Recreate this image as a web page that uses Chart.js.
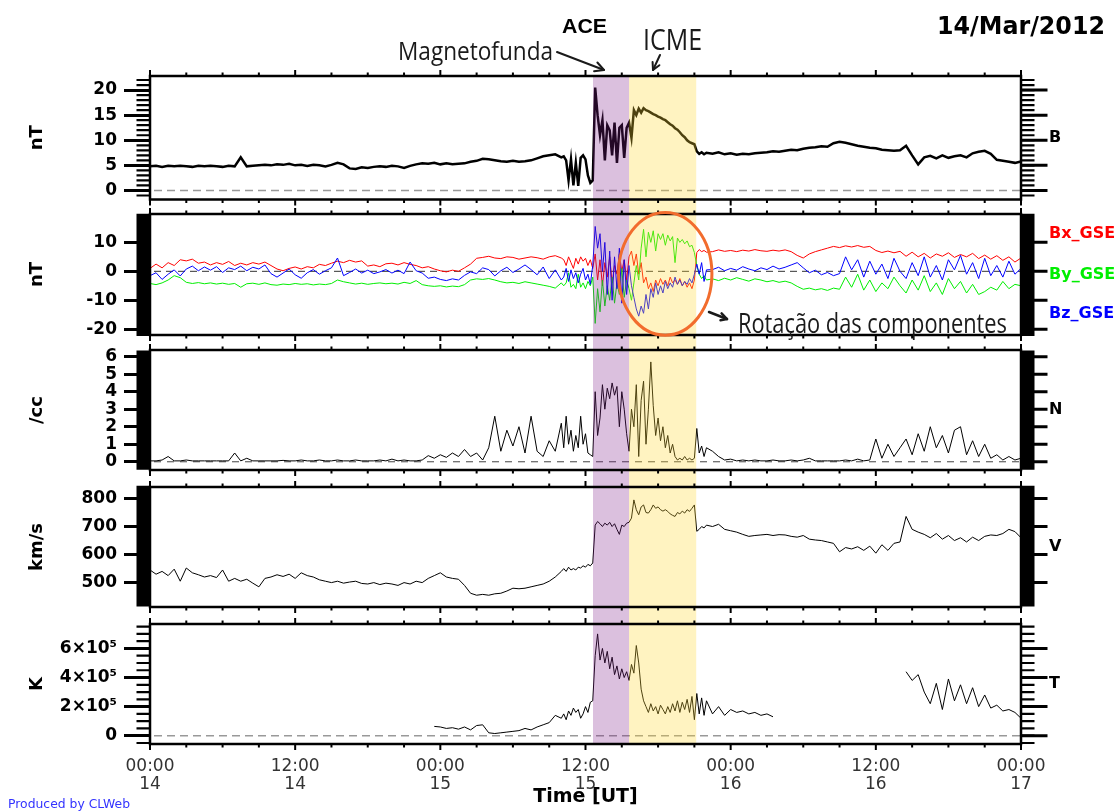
<!DOCTYPE html>
<html><head><meta charset="utf-8">
<script src="https://cdn.jsdelivr.net/npm/chart.js@4.4.1/dist/chart.umd.min.js"></script>
<style>
html,body{margin:0;padding:0;background:#fff;}
#wrap{position:relative;width:1115px;height:811px;overflow:hidden;background:#fff;}
#wrap canvas{position:absolute;left:0;}
.ann{position:absolute;white-space:nowrap;line-height:1;transform-origin:0 0;}
#arrows{position:absolute;left:0;top:0;pointer-events:none;}
</style></head><body>
<div id="wrap">
<canvas id="c1" width="1115" height="207" style="top:0px"></canvas>
<canvas id="c2" width="1115" height="135" style="top:207px"></canvas>
<canvas id="c3" width="1115" height="136" style="top:342px"></canvas>
<canvas id="c4" width="1115" height="137" style="top:478px"></canvas>
<canvas id="c5" width="1115" height="196" style="top:615px"></canvas>
<svg id="arrows" width="1115" height="811">
 <g stroke="#1a1a1a" stroke-width="2" fill="none" stroke-linecap="round" stroke-linejoin="round">
  <line x1="557" y1="52" x2="604" y2="70"/>
  <polyline points="597.4,62.5 604,70 594.1,71.2"/>
  <line x1="660" y1="55" x2="653" y2="70"/>
  <polyline points="659.4,65.2 653,70 652.6,62"/>
  <line x1="709" y1="312" x2="727" y2="319" stroke-width="2.5"/>
  <polyline points="721.6,313.4 727,319 720.5,320.2" stroke-width="2.5"/>
 </g>
</svg>
<div class="ann" id="aACE" style="left:562px;top:14px;font:bold 21px 'Liberation Sans';color:#000">ACE</div>
<div class="ann" id="aMag" style="left:398px;top:32px;font:400 26px 'Open Sans';color:#1a1a1a">Magnetofunda</div>
<div class="ann" id="aICME" style="left:643px;top:18px;font:400 30px 'Open Sans';color:#1a1a1a">ICME</div>
<div class="ann" id="aDate" style="left:937px;top:12px;font:bold 24px 'DejaVu Sans';color:#000">14/Mar/2012</div>
<div class="ann" id="aRot" style="left:738px;top:303px;font:400 28px 'Open Sans';color:#1a1a1a">Rotação das componentes</div>
<div class="ann" id="aCl" style="left:8px;top:796px;font:12.5px 'DejaVu Sans';color:#3333ff">Produced by CLWeb</div>
</div>
<script>
// ---------- time grid (hours since 14 Mar 00:00 UT) ----------
const hours = [
0,0.5,1,1.5,2,2.5,3,3.5,4,4.5,5,5.5,6,6.5,7,7.5,8,8.5,9,9.5,10,10.5,11,11.5,12,12.5,13,13.5,14,14.5,15,15.5,16,16.5,17,17.5,18,18.5,19,19.5,20,20.5,21,21.5,22,22.5,23,23.5,24,24.5,25,25.5,26,26.5,27,27.5,28,28.5,29,29.5,30,30.5,31,31.5,32,32.5,33,33.5,34,
34.2,34.4,34.6,34.8,35,35.2,35.4,35.6,35.8,36,36.2,36.4,36.6,36.8,37,37.2,37.4,37.6,37.8,38,38.2,38.4,38.6,38.8,39,39.2,39.4,39.6,39.8,40,40.2,40.4,40.6,40.8,41,41.2,41.4,41.6,41.8,42,42.2,42.4,42.6,42.8,43,43.2,43.4,43.6,43.8,44,44.2,44.4,44.6,44.8,45,45.2,45.4,45.6,45.8,46,
46.5,47,47.5,48,48.5,49,49.5,50,50.5,51,51.5,52,52.5,53,53.5,54,54.5,55,55.5,56,56.5,57,57.5,58,58.5,59,59.5,60,60.5,61,61.5,62,62.5,63,63.5,64,64.5,65,65.5,66,66.5,67,67.5,68,68.5,69,69.5,70,70.5,71,71.5,72];

// ---------- |B| (nT) ----------
const bMag = [
4.8,4.9,4.7,4.9,4.8,4.9,4.8,4.7,4.9,4.8,
4.9,4.8,4.7,4.9,4.8,6.6,4.8,4.9,5.0,5.1,
5.0,5.2,5.1,5.3,5.0,5.1,4.9,5.1,5.0,4.8,
5.1,5.5,5.2,4.4,4.3,4.6,4.5,4.7,4.8,4.7,
4.9,4.8,4.5,4.9,5.2,5.4,5.3,5.5,5.2,5.4,
5.2,5.3,5.4,5.7,5.9,6.3,6.2,6.0,5.8,5.7,
5.9,5.7,5.8,6.0,6.4,6.8,7.0,7.2,6.6,
6.8,6.0,2.0,6.2,1.0,5.5,0.9,6.5,7.0,6.2,
3.0,1.5,2.0,20.5,15.0,11.0,14.0,6.0,13.0,12.0,
7.0,13.5,5.5,12.5,13.0,6.5,12.5,13.5,10.5,16.0,
15.0,16.3,15.5,16.4,16.0,15.8,15.5,15.2,15.0,14.7,
14.5,14.2,14.0,13.6,13.2,12.9,12.4,12.1,11.6,11.0,
10.6,10.0,9.6,9.4,9.2,7.8,7.3,7.6,7.2,7.5,
7.3,7.6,7.2,7.4,7.1,7.3,7.2,7.4,7.5,7.6,
7.8,7.7,7.9,8.1,8.0,8.3,8.5,8.6,8.8,8.7,
9.4,9.7,9.5,9.2,8.9,8.7,8.5,8.4,8.1,8.0,
7.9,8.0,8.9,7.0,5.2,6.6,6.9,6.4,7.0,6.5,
6.8,7.0,6.6,7.4,7.7,7.9,7.3,6.1,5.9,5.7,
5.5,5.8];

// ---------- B components GSE (nT) ----------
const bxGse = [
1.0,2.5,1.2,3.0,2.0,4.0,3.6,4.2,2.8,3.2,
2.2,3.0,2.4,3.4,2.0,2.8,2.2,3.0,2.5,3.2,
2.0,0.8,0.2,1.0,1.5,0.8,1.6,1.2,2.4,2.0,
2.8,3.5,3.0,3.8,3.2,3.6,1.8,2.2,1.6,2.6,
2.8,2.2,3.0,2.4,2.0,1.2,1.6,0.8,0.2,-0.2,
0.4,0.0,1.2,2.5,4.5,4.8,5.2,4.6,4.4,5.0,
4.8,4.2,4.6,5.0,4.7,4.2,5.0,5.4,4.6,
4.0,2.0,5.0,3.0,1.0,4.5,2.5,5.0,3.5,4.5,
2.0,4.0,1.0,6.0,-3.0,4.0,-5.0,3.0,-2.0,5.0,
-4.0,2.0,-1.0,6.0,0.0,4.0,-3.0,5.0,7.0,2.0,
6.0,-1.0,3.0,-4.0,-2.0,-6.0,-4.0,-7.0,-3.0,-5.0,
-2.5,-4.5,-3.0,-5.0,-2.0,-4.0,-3.0,-4.5,-2.5,-5.0,
-3.5,-5.5,-4.0,-6.0,-3.0,6.5,7.5,6.8,7.2,6.6,
6.8,7.4,6.9,7.2,6.8,7.3,7.0,7.5,7.1,6.9,
7.3,7.0,7.4,6.8,5.5,4.6,6.0,6.8,7.4,8.0,
8.6,8.2,8.8,8.4,8.9,8.3,8.6,7.2,6.5,7.0,
6.4,6.9,5.2,6.6,5.0,6.2,4.6,6.0,5.2,6.4,
4.8,5.8,5.0,6.2,4.4,5.6,4.2,5.4,3.8,5.0,
3.2,4.6];
const byGse = [
-4.2,-4.6,-4.0,-3.0,-1.5,-2.2,-3.8,-4.2,-3.9,-4.3,
-4.0,-4.4,-4.1,-4.5,-4.2,-5.5,-4.3,-4.1,-4.5,-4.0,
-4.6,-4.8,-4.4,-4.6,-4.2,-4.5,-4.3,-4.7,-4.4,-4.6,
-4.2,-3.0,-3.6,-4.0,-4.4,-4.1,-4.5,-4.2,-4.0,-4.3,
-4.1,-4.4,-3.8,-4.2,-3.2,-4.6,-5.0,-5.2,-5.0,-5.4,
-5.1,-5.3,-4.6,-3.0,-2.6,-2.8,-2.5,-3.0,-3.6,-4.0,
-3.8,-4.2,-3.6,-4.0,-4.4,-4.8,-5.2,-5.8,-4.0,
-5.0,-4.0,-0.5,-5.5,-4.5,-6.0,-1.0,-5.5,-4.0,-6.0,
-3.5,-5.0,-2.0,-18.0,-6.0,-14.0,-3.0,-12.0,-5.0,-10.0,
-2.0,-11.0,-4.0,-8.0,1.0,-9.0,-3.0,-6.0,-10.0,-4.0,
2.0,-3.0,8.0,14.5,5.0,13.5,10.0,14.0,7.0,13.0,
11.0,13.0,9.0,12.5,10.5,12.0,3.0,11.5,10.0,11.0,
9.5,10.5,8.5,9.0,6.5,2.0,-1.0,-2.5,-1.5,-3.0,
-2.6,-3.2,-2.4,-3.0,-2.2,-2.8,-3.4,-2.6,-3.0,-3.6,
-3.2,-3.8,-3.4,-4.0,-5.2,-6.2,-5.8,-6.4,-6.0,-6.6,
-5.8,-6.2,-2.0,-5.5,-1.0,-6.5,-3.0,-7.0,-4.0,-6.0,
-2.0,-5.0,-7.5,-3.0,-6.5,-1.5,-7.0,-4.0,-8.0,-2.5,
-6.0,-3.5,-7.5,-4.5,-8.0,-7.0,-5.5,-6.5,-3.5,-6.0,
-4.5,-5.0];
const bzGse = [
-1.5,-0.5,-2.8,-1.0,0.5,-1.6,0.8,1.8,0.2,1.5,
0.4,1.6,-0.4,1.2,0.6,1.8,0.2,1.4,0.8,2.2,
-0.8,-2.0,-0.6,0.8,-1.2,-2.4,-0.5,0.6,-1.0,0.2,
1.2,4.6,-1.5,-0.4,0.8,-0.6,0.4,-0.8,-0.2,0.6,
-0.6,0.4,-0.8,3.2,0.2,-0.6,-2.4,-2.0,-2.8,-3.2,
-2.6,-3.0,-1.4,-0.2,-0.8,1.2,0.6,-1.6,0.2,1.4,
-0.4,0.8,2.2,0.6,-1.2,1.5,-2.5,0.5,-3.0,
-2.0,1.0,-3.5,0.5,-2.5,-0.5,-4.0,-1.0,1.0,-3.0,
-1.0,-4.5,2.0,15.5,8.0,13.0,0.0,10.0,-8.0,7.0,
-10.0,5.0,-6.0,8.0,-11.0,4.0,-8.0,2.0,-5.0,-9.0,
-13.0,-15.5,-12.0,-14.5,-8.0,-13.0,-6.0,-9.0,-4.0,-8.0,
-5.0,-7.5,-3.5,-6.0,-4.0,-5.5,-2.0,-4.5,-3.0,-5.0,
-3.5,-4.5,-2.5,-4.0,-1.0,2.5,-1.0,3.0,-3.5,0.5,
0.6,1.4,0.2,1.0,0.4,1.6,0.8,0.2,1.2,0.6,
1.8,0.8,1.4,2.2,3.0,1.2,-0.5,0.4,-1.2,-0.4,
-1.5,-0.8,5.0,0.5,4.0,-2.0,3.5,-1.0,2.5,-2.5,
4.5,0.0,-2.5,3.0,-1.5,5.0,-2.0,2.0,-3.0,4.0,
0.5,5.5,-1.0,3.0,-2.5,4.5,-1.5,2.0,-2.0,3.5,
-1.0,1.0];

// ---------- proton density (/cc) ----------
const density = [
0.05,0.05,0.1,0.3,0.05,0.05,0.1,0.05,0.05,0.05,
0.05,0.05,0.05,0.05,0.5,0.05,0.2,0.05,0.05,0.05,
0.05,0.05,0.08,0.05,0.05,0.1,0.05,0.05,0.1,0.05,
0.05,0.1,0.05,0.05,0.1,0.05,0.05,0.05,0.1,0.05,
0.15,0.05,0.1,0.05,0.05,0.1,0.35,0.2,0.4,0.25,
0.5,0.3,0.7,0.3,0.5,0.1,0.8,2.6,0.6,1.8,
0.9,2.0,0.5,2.6,0.6,0.3,1.2,0.6,2.2,
0.8,2.6,1.0,1.8,0.6,1.5,0.8,2.6,1.0,1.6,
0.5,0.4,0.3,4.0,1.5,2.5,4.4,3.0,4.2,3.6,
4.5,3.8,4.3,2.0,4.0,3.0,1.6,0.6,3.0,2.0,
4.4,0.3,3.5,4.6,1.0,3.0,5.7,3.2,1.5,2.5,
1.2,2.0,0.8,1.5,0.5,1.0,0.3,0.1,0.2,0.1,
0.3,0.1,0.2,0.1,0.2,1.9,0.5,0.9,0.3,0.8,
0.6,0.3,0.1,0.15,0.05,0.1,0.05,0.1,0.05,0.05,
0.1,0.05,0.05,0.1,0.05,0.1,0.2,0.05,0.05,0.05,
0.05,0.05,0.1,0.05,0.15,0.05,0.1,1.3,0.2,1.0,
0.3,0.8,1.3,0.4,1.6,0.6,2.0,0.8,1.5,0.5,
1.8,2.0,0.4,1.2,0.3,1.0,0.2,0.4,0.1,0.3,
0.1,0.2];

// ---------- bulk speed (km/s) ----------
const speed = [
545,530,540,525,548,505,552,535,528,520,
525,518,545,505,515,505,512,498,485,515,
520,528,522,530,515,535,525,520,510,505,
500,505,498,502,505,497,495,500,493,498,
495,490,500,495,505,500,515,525,535,520,
515,512,490,462,455,458,455,460,462,470,
480,478,480,485,490,495,505,520,540,
550,540,555,545,550,545,555,552,560,555,
565,560,570,705,718,710,700,712,705,715,
700,710,690,672,705,700,712,715,730,795,
760,742,770,777,750,748,760,777,765,770,
760,755,760,754,745,740,736,750,745,755,
748,760,754,765,777,683,690,700,695,705,
700,708,690,685,680,672,665,668,670,672,
668,671,670,665,662,668,655,652,650,645,
640,610,625,620,628,615,630,605,635,615,
640,645,736,690,680,672,660,675,655,668,
650,660,645,662,650,665,670,668,675,690,
682,660];

// ---------- proton temperature (K) ----------
const tempK = [
null,null,null,null,null,null,null,null,null,null,
null,null,null,null,null,null,null,null,null,null,
null,null,null,null,null,null,null,null,null,null,
null,null,null,null,null,null,null,null,null,null,
null,null,null,null,null,null,null,0.64e5,0.6e5,0.5e5,
0.55e5,0.45e5,0.6e5,0.4e5,0.7e5,0.75e5,0.2e5,0.15e5,0.2e5,0.25e5,
0.3e5,0.35e5,0.5e5,0.4e5,0.6e5,0.75e5,0.9e5,1.4e5,1.2e5,
1.5e5,1.1e5,1.7e5,1.4e5,1.9e5,1.6e5,1.8e5,1.2e5,1.5e5,2.0e5,
1.6e5,2.3e5,2.4e5,5.5e5,7.0e5,5.2e5,6.0e5,5.0e5,5.8e5,4.6e5,
5.4e5,4.2e5,4.8e5,3.9e5,4.6e5,4.0e5,4.4e5,3.8e5,4.9e5,4.3e5,
6.2e5,5.0e5,3.2e5,2.4e5,2.0e5,1.6e5,2.2e5,1.7e5,2.0e5,1.5e5,
2.1e5,1.8e5,1.5e5,2.0e5,1.6e5,2.2e5,1.7e5,2.4e5,1.6e5,2.3e5,
1.8e5,2.5e5,1.6e5,2.7e5,1.1e5,2.9e5,1.5e5,2.6e5,1.4e5,2.4e5,
1.5e5,2.0e5,1.4e5,1.8e5,1.6e5,1.7e5,1.5e5,1.6e5,1.4e5,1.5e5,
1.3e5,null,null,null,null,null,null,null,null,null,
null,null,null,null,null,null,null,null,null,null,
null,null,4.4e5,3.8e5,4.2e5,3.0e5,2.2e5,3.6e5,1.8e5,3.9e5,
2.4e5,3.5e5,2.2e5,3.3e5,2.0e5,2.8e5,1.9e5,2.1e5,1.7e5,1.8e5,
1.6e5,1.2e5];

// ---------- axis ticks / labels ----------
const bTicks = [0,5,10,15,20];
const gseTicks = [-20,-10,0,10];
const nTicks = [0,1,2,3,4,5,6];
const vTicks = [500,600,700,800];
const tTicks = [0,2e5,4e5,6e5];
const tTickLabels = ['0','2×10⁵','4×10⁵','6×10⁵'];
const xTicks = [0,12,24,36,48,60,72];
const xTickLabels = [['00:00','14'],['12:00','14'],['00:00','15'],['12:00','15'],['00:00','16'],['12:00','16'],['00:00','17']];
const sheathBand = [36.62, 39.6];
const icmeBand = [39.6, 45.15];

[bMag,bxGse,byGse,bzGse,density,speed,tempK].forEach((s,i)=>{ if(s.length!==hours.length) console.error('length mismatch',i,s.length,hours.length); });

const pts = s => hours.map((h,i)=>({x:h, y:s[i]}));
const FONT = '"DejaVu Sans"';

const panels = [
 {id:'c1', pad:{top:76,bottom:7.5}, min:-1.8, max:22.8, ticks:bTicks, title:'nT', minorStep:1, minorW:2.2,
  series:[{d:bMag,c:'#000',w:2.5}], zero:{c:'#999',w:1.5,dash:[8,5]},
  labels:[{t:'B',c:'#000',dy:0,size:16}], band:'top'},
 {id:'c2', pad:{top:7,bottom:7}, min:-22, max:19.8, ticks:gseTicks, title:'nT', minorStep:0.5, minorW:2,
  series:[{d:bzGse,c:'#0000ff',w:1},{d:byGse,c:'#00ee00',w:1},{d:bxGse,c:'#ff0000',w:1}], zero:{c:'#333',w:1,dash:[7,5]},
  labels:[{t:'Bx_GSE',c:'#ff0000',dy:-41,size:16},{t:'By_GSE',c:'#00ee00',dy:0.5,size:16},{t:'Bz_GSE',c:'#0000ff',dy:39,size:16}],
  band:'mid', ellipse:{h:42.59, v:-0.87, dh:3.86, dv:21.2}},
 {id:'c3', pad:{top:8,bottom:8}, min:-0.47, max:6.38, ticks:nTicks, title:'/cc', minorStep:0.1, minorW:2,
  series:[{d:density,c:'#000',w:1}], zero:{c:'#444',w:1,dash:[7,6]},
  labels:[{t:'N',c:'#000',dy:0,size:16}], band:'mid'},
 {id:'c4', pad:{top:9,bottom:8}, min:413, max:841, ticks:vTicks, title:'km/s', minorStep:10, minorW:3,
  series:[{d:speed,c:'#000',w:1}], zero:null,
  labels:[{t:'V',c:'#000',dy:0,size:16}], band:'mid'},
 {id:'c5', pad:{top:9,bottom:0}, min:-0.57e5, max:7.68e5, ticks:tTicks, tickLabels:tTickLabels, title:'K', minorStep:0.5e5, minorW:2.2,
  series:[{d:tempK,c:'#000',w:1}], zero:{c:'#999',w:1.5,dash:[8,5]},
  labels:[{t:'T',c:'#000',dy:0,size:16}], band:'bottom', xaxis:true}
];

function panelPlugin(p){
  return {
    id:'panel_'+p.id,
    beforeDatasetsDraw(chart){
      if(!p.zero) return;
      const {ctx, chartArea:a, scales:{y}} = chart;
      const yy = y.getPixelForValue(0);
      ctx.save();
      ctx.beginPath(); ctx.rect(a.left,a.top,a.right-a.left,a.bottom-a.top); ctx.clip();
      ctx.strokeStyle = p.zero.c; ctx.lineWidth = p.zero.w; ctx.setLineDash(p.zero.dash);
      ctx.beginPath(); ctx.moveTo(a.left+4, yy); ctx.lineTo(a.right, yy); ctx.stroke();
      ctx.restore();
    },
    afterDatasetsDraw(chart){
      const {ctx, chartArea:a, scales:{x}} = chart;
      const top = p.band==='top' ? a.top : 0;
      const bottom = p.band==='bottom' ? a.bottom : chart.height;
      ctx.save();
      const x0 = x.getPixelForValue(sheathBand[0]), x1 = x.getPixelForValue(sheathBand[1]);
      ctx.fillStyle = 'rgba(125,30,135,0.28)';
      ctx.fillRect(x0, top, x1-x0, bottom-top);
      const x2 = x.getPixelForValue(icmeBand[0]), x3 = x.getPixelForValue(icmeBand[1]);
      ctx.fillStyle = 'rgba(255,215,50,0.3)';
      ctx.fillRect(x2, top, x3-x2, bottom-top);
      ctx.restore();
    },
    afterDraw(chart){
      const {ctx, chartArea:a, scales:{x, y}} = chart;
      ctx.save();
      ctx.strokeStyle = '#000';
      ctx.lineWidth = p.minorW;
      ctx.beginPath();
      const start = Math.ceil(p.min/p.minorStep)*p.minorStep;
      for(let k=0;;k++){
        const v = start + k*p.minorStep;
        if(v > p.max + 1e-9) break;
        const py = y.getPixelForValue(v);
        ctx.moveTo(a.left-13.5, py); ctx.lineTo(a.left, py);
        ctx.moveTo(a.right, py); ctx.lineTo(a.right+13.5, py);
      }
      ctx.stroke();
      ctx.lineWidth = 3;
      ctx.beginPath();
      p.ticks.forEach(v=>{ const py = y.getPixelForValue(v); ctx.moveTo(a.right, py); ctx.lineTo(a.right+26.5, py); });
      ctx.stroke();
      ctx.lineWidth = 2;
      ctx.beginPath();
      for(let h=0; h<=72; h+=3){
        const px = x.getPixelForValue(h);
        const len = (h%12===0) ? 6 : 3.5;
        ctx.moveTo(px, a.top); ctx.lineTo(px, a.top-len);
        ctx.moveTo(px, a.bottom); ctx.lineTo(px, a.bottom+len);
      }
      ctx.stroke();
      ctx.lineWidth = 2.5;
      ctx.strokeRect(a.left, a.top, a.right-a.left, a.bottom-a.top);
      const cy = (a.top+a.bottom)/2;
      ctx.textBaseline = 'middle'; ctx.textAlign = 'left';
      p.labels.forEach(l=>{
        ctx.font = 'bold '+l.size+'px '+FONT;
        ctx.fillStyle = l.c;
        ctx.fillText(l.t, a.right+28, cy+l.dy);
      });
      if(p.ellipse){
        const e = p.ellipse;
        const ex = x.getPixelForValue(e.h), ey = y.getPixelForValue(e.v);
        const rx = x.getPixelForValue(e.h+e.dh)-ex, ry = ey - y.getPixelForValue(e.v+e.dv);
        ctx.beginPath(); ctx.ellipse(ex, ey, rx, ry, 0, 0, Math.PI*2);
        ctx.lineWidth = 3; ctx.strokeStyle = 'rgb(242,108,45)'; ctx.stroke();
      }
      ctx.restore();
    }
  };
}

panels.forEach(p=>{
  const xScale = {
    type:'linear', min:0, max:72, display: !!p.xaxis,
    afterBuildTicks: s=>{ s.ticks = xTicks.map(v=>({value:v})); },
    ticks:{ autoSkip:false, maxRotation:0, padding:13, color:'#333',
      font:{family:FONT, size:17, lineHeight:1.1},
      callback:(v,i)=>xTickLabels[i] },
    grid:{display:false, drawTicks:false},
    border:{display:false},
    title:{display:!!p.xaxis, text:'Time [UT]', color:'#000', font:{family:FONT, size:19, weight:'bold'}, padding:{top:0,bottom:3}},
    afterFit: s=>{ if(p.xaxis){ s.height = 67; } s.paddingLeft = 0; s.paddingRight = 0; }
  };
  const yScale = {
    type:'linear', position:'left', min:p.min, max:p.max,
    afterBuildTicks: s=>{ s.ticks = p.ticks.map(v=>({value:v})); },
    ticks:{ autoSkip:false, padding:7, color:'#000', font:{family:FONT, size:17, weight:'bold'},
      callback:(v,i)=> p.tickLabels ? p.tickLabels[i] : String(v) },
    grid:{display:true, drawOnChartArea:false, drawTicks:true, tickLength:26, tickWidth:3, tickColor:'#000'},
    border:{display:false},
    title:{display:true, text:p.title, color:'#000', font:{family:FONT, size:18, weight:'bold'}, padding:{top:0,bottom:0}},
    afterFit: s=>{ s.width = 123; s.paddingTop = 0; s.paddingBottom = 0; }
  };
  new Chart(document.getElementById(p.id), {
    type:'line',
    data:{ datasets: p.series.map(s=>({ data: pts(s.d), borderColor:s.c, borderWidth:s.w, pointRadius:0, tension:0, spanGaps:false, fill:false })) },
    options:{
      responsive:false, animation:false, devicePixelRatio:1, events:[],
      layout:{ padding:{ top:p.pad.top, bottom:p.pad.bottom, left:27, right:94 } },
      plugins:{ legend:{display:false}, tooltip:{enabled:false} },
      scales:{ x:xScale, y:yScale }
    },
    plugins:[panelPlugin(p)]
  });
});

const annWidths = {aACE:45, aMag:155, aICME:59, aDate:168, aRot:269, aCl:122};
Object.keys(annWidths).forEach(id=>{
  const el = document.getElementById(id);
  const w = el.getBoundingClientRect().width;
  if(w>0) el.style.transform = 'scaleX('+(annWidths[id]/w).toFixed(3)+')';
});
</script>
</body></html>
